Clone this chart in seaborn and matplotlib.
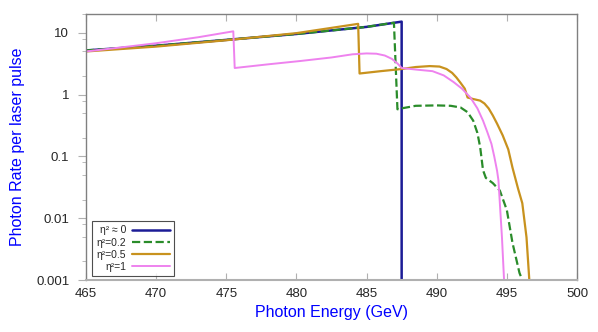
import pandas as pd
import matplotlib
matplotlib.use("Agg")
import matplotlib.pyplot as plt
from matplotlib.ticker import LogLocator, NullFormatter
import seaborn as sns

sns.set_style("ticks")
plt.rcParams["font.family"] = ["Liberation Sans", "DejaVu Sans"]

# eta^2 ~ 0
x0 = [465, 470, 475, 480, 485, 487.5, 487.5]
y0 = [5.2, 6.2, 7.7, 9.6, 12.5, 15.2, 0.0005]

# eta^2 = 0.2
x2 = [465, 470, 475, 480, 485, 486.95, 487.2, 487.5, 488.5, 490.0, 491.0, 491.7,
      492.2, 492.6, 492.9, 493.1, 493.3, 493.5, 494.0, 494.5, 495.0, 495.4,
      495.9, 496.1]
y2 = [5.2, 6.2, 7.7, 9.6, 12.5, 14.6, 0.58, 0.6, 0.66, 0.67, 0.66, 0.62,
      0.52, 0.38, 0.24, 0.14, 0.06, 0.045, 0.037, 0.028, 0.0135, 0.004,
      0.0013, 0.001]

# eta^2 = 0.5
x5 = [465, 470, 475, 480, 484.4, 484.5, 486.0, 487.5, 488.5, 489.5, 490.2, 490.7,
      491.1, 491.4, 491.7, 492.0, 492.2, 492.6, 493.1, 493.4, 493.7, 494.0,
      494.3, 494.7, 495.1, 495.4, 495.8, 496.1, 496.4, 496.6]
y5 = [5.0, 6.0, 7.6, 9.9, 14.0, 2.2, 2.4, 2.6, 2.8, 2.9, 2.85, 2.6,
      2.25, 1.9, 1.55, 1.25, 0.9, 0.85, 0.8, 0.72, 0.6, 0.46,
      0.34, 0.22, 0.13, 0.066, 0.03, 0.0175, 0.0049, 0.001]

# eta^2 = 1
x1 = [465, 468, 470, 473, 475.5, 475.6, 478.0, 480.25, 482.5, 484.0, 485.0,
      485.7, 486.3, 486.8, 487.2, 487.5, 488.5, 489.7, 490.5, 491.2, 491.8,
      492.4, 492.9, 493.3, 493.6, 493.9, 494.1, 494.3, 494.4, 494.5, 494.65,
      494.8]
y1 = [5.0, 6.0, 6.8, 8.5, 10.6, 2.7, 3.1, 3.5, 4.0, 4.5, 4.65,
      4.6, 4.3, 3.8, 3.2, 2.7, 2.55, 2.4, 2.05, 1.6, 1.25,
      0.9, 0.6, 0.38, 0.25, 0.16, 0.1, 0.059, 0.041, 0.0175, 0.0049,
      0.001]

labels = ["η² ≈ 0", "η²=0.2", "η²=0.5", "η²=1"]
colors = ["#1c1c96", "#2a8c2a", "#c8921e", "#ee82ee"]
styles = ["-", "--", "-", "-"]
widths = [1.8, 1.6, 1.6, 1.4]

fig = plt.figure(figsize=(5.98, 3.32), dpi=100)
ax = fig.add_axes([0.1438, 0.1566, 0.8211, 0.8012])

for xs, ys, lab, c, ls, lw in zip([x0, x2, x5, x1], [y0, y2, y5, y1],
                                   labels, colors, styles, widths):
    df = pd.DataFrame({"x": xs, "y": ys})
    sns.lineplot(data=df, x="x", y="y", ax=ax, estimator=None, sort=False,
                 color=c, linestyle=ls, linewidth=lw, label=lab)

ax.set_yscale("log")
ax.set_xlim(465, 500)
ax.set_ylim(0.001, 20.2)
ax.set_xticks([465, 470, 475, 480, 485, 490, 495, 500])
ax.set_yticks([0.001, 0.01, 0.1, 1, 10])
ax.set_yticklabels(["0.001", "0.01", "0.1", "1", "10"])
ax.yaxis.set_minor_locator(LogLocator(base=10, subs=[2, 5, 8]))
ax.yaxis.set_minor_formatter(NullFormatter())
ax.tick_params(axis="x", which="both", direction="in", top=True,
               color="#b0b0b0", labelsize=9.5, length=5, pad=6)
ax.tick_params(axis="y", which="major", direction="out", color="#b0b0b0",
               labelsize=9.5, length=6, pad=6)
ax.tick_params(axis="y", which="minor", direction="out", color="#b0b0b0",
               length=3)
for s in ax.spines.values():
    s.set_color("#808080")
    s.set_linewidth(1.0)
    s.set_visible(True)
ax.spines["bottom"].set_color("#b0b0b0")
ax.spines["bottom"].set_linewidth(1.5)

ax.set_xlabel("Photon Energy (GeV)", color="blue", fontsize=11.5, labelpad=3)
ax.set_ylabel("Photon Rate per laser pulse", color="blue", fontsize=11.5,
              labelpad=8)

leg = ax.legend(loc="lower left", markerfirst=False, fontsize=7.5, frameon=True,
                fancybox=False, handlelength=3.6, borderpad=0.4,
                labelspacing=0.2, handletextpad=0.6,
                bbox_to_anchor=(0.002, -0.004))
leg.get_frame().set_edgecolor("#222222")
leg.get_frame().set_linewidth(0.8)
for t in leg.get_texts():
    t.set_ha("right")

fig.savefig("out.png", dpi=100)
